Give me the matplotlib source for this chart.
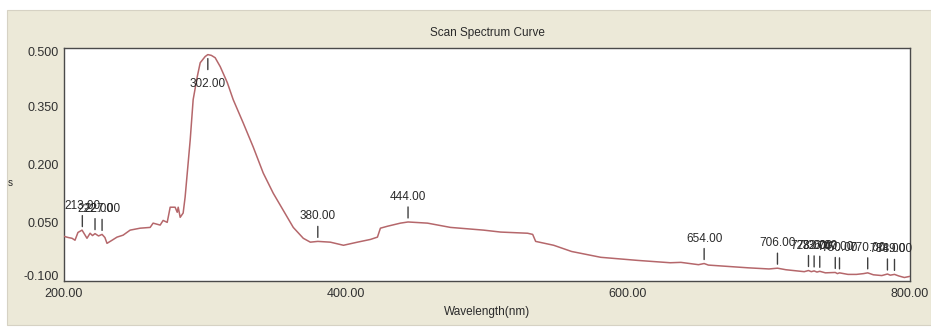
import numpy as np
import matplotlib
matplotlib.use("Agg")
import matplotlib.pyplot as plt
from matplotlib.patches import Rectangle
from matplotlib.transforms import ScaledTranslation

plt.rcParams["font.family"] = ["Liberation Sans", "DejaVu Sans"]

# Scanned absorbance spectrum
wavelength = [200.0, 203.0, 205.7, 207.8, 209.9, 212.8, 216.3, 218.5, 220.2, 222.0,
              224.5, 227.0, 229.0, 230.5, 234.1, 237.6, 241.9, 246.9, 254.0, 261.1,
              263.2, 268.2, 270.3, 273.2, 275.3, 278.8, 280.3, 281.0, 282.4, 284.5,
              285.9, 289.5, 291.6, 294.5, 296.6, 300.1, 302.0, 304.5, 307.2, 310.8,
              315.8, 320.0, 327.1, 334.2, 341.3, 348.4, 355.5, 362.6, 369.7, 374.7,
              380.0, 388.9, 398.2, 408.1, 417.3, 422.3, 424.4, 429.4, 438.6, 444.0,
              457.8, 474.1, 497.6, 509.7, 528.8, 532.4, 534.5, 547.3, 560.0, 580.7,
              607.0, 630.0, 637.5, 650.0, 654.0, 657.0, 661.0, 685.0, 700.0, 706.0,
              712.0, 725.0, 728.0, 730.0, 732.0, 734.0, 736.0, 740.0, 747.0, 748.5,
              750.0, 756.0, 762.0, 767.0, 770.0, 774.0, 780.0, 784.0, 786.0, 789.0,
              792.0, 796.0, 800.0]
absorbance = [0.015, 0.012, 0.010, 0.005, 0.025, 0.031, 0.010, 0.023, 0.017, 0.022,
              0.016, 0.020, 0.012, -0.003, 0.005, 0.013, 0.018, 0.031, 0.036, 0.038,
              0.049, 0.044, 0.056, 0.051, 0.090, 0.090, 0.077, 0.090, 0.064, 0.075,
              0.116, 0.263, 0.367, 0.426, 0.462, 0.478, 0.483, 0.481, 0.475, 0.452,
              0.411, 0.367, 0.307, 0.245, 0.178, 0.126, 0.082, 0.038, 0.010, 0.000,
              0.002, 0.000, -0.008, 0.000, 0.007, 0.013, 0.036, 0.041, 0.049, 0.052,
              0.049, 0.038, 0.031, 0.026, 0.023, 0.020, 0.002, -0.008, -0.024, -0.039,
              -0.047, -0.053, -0.052, -0.058, -0.055, -0.059, -0.060, -0.066, -0.069, -0.067,
              -0.071, -0.076, -0.073, -0.076, -0.074, -0.077, -0.075, -0.079, -0.078, -0.081,
              -0.079, -0.083, -0.083, -0.081, -0.079, -0.084, -0.086, -0.082, -0.085, -0.083,
              -0.087, -0.091, -0.088]

# Picked peak positions (nm)
peak_wavelengths = [213, 222, 227, 302, 380, 444, 654, 706,
                    728, 732, 736, 747, 750, 770, 784, 789]

x_ticks = [200, 400, 600, 800]
y_ticks = [-0.100, 0.050, 0.200, 0.350, 0.500]

W, H = 931, 327
fig = plt.figure(figsize=(W / 100, H / 100), dpi=100)
fig.patch.set_facecolor("white")

# Window-style panel behind the chart
fig.add_artist(Rectangle((7 / W, 2 / H), 1 - 7 / W, 315 / H,
                         transform=fig.transFigure, facecolor="#ECE9D8",
                         edgecolor="#D6D2C4", lw=0.8, zorder=-5))

left, right, top, bottom = 64, 910, 48, 281
ax = fig.add_axes([left / W, 1 - bottom / H, (right - left) / W, (bottom - top) / H])
ax.set_facecolor("white")

ax.plot(wavelength, absorbance, color="#B5676B", lw=1.1, zorder=3)

ax.set_xlim(200, 800)
ax.set_ylim(-0.1, 0.5)
ax.set_xticks(x_ticks)
ax.set_xticklabels([f"{v:.2f}" for v in x_ticks])
ax.set_yticks(y_ticks)
ax.set_yticklabels([f"{v:.3f}" for v in y_ticks])
ax.tick_params(axis="both", length=0, labelsize=9, colors="#303030")
ax.tick_params(axis="x", pad=5)
ax.tick_params(axis="y", pad=4)

for s in ax.spines.values():
    s.set_color("#4A4A4A")
    s.set_linewidth(1.0)

# Keep the end y labels inside the frame
ylabels = ax.get_yticklabels()
ylabels[0].set_transform(ylabels[0].get_transform() + ScaledTranslation(0, 6 / 100, fig.dpi_scale_trans))
ylabels[-1].set_transform(ylabels[-1].get_transform() + ScaledTranslation(0, -3 / 100, fig.dpi_scale_trans))

# Peak markers with labels
for w in peak_wavelengths:
    a = float(np.interp(w, wavelength, absorbance))
    below = a > 0.4
    sgn = -1 if below else 1
    ax.annotate("", xy=(w, a), xycoords="data",
                xytext=(0, sgn * 15), textcoords="offset pixels",
                arrowprops=dict(arrowstyle="-", color="#404040", lw=1.0,
                                shrinkA=0, shrinkB=4 * 0.72), zorder=4)
    ax.annotate(f"{w:.2f}", xy=(w, a), xycoords="data",
                xytext=(0, sgn * (22 if not below else 23)), textcoords="offset pixels",
                ha="center", va="top" if below else "baseline",
                fontsize=8.5, color="#2A2A2A", zorder=5)

fig.text((left + right) / 2 / W, 1 - 33 / H, "Scan Spectrum Curve",
         ha="center", va="center", fontsize=8.5, color="#2A2A2A")
fig.text((left + right) / 2 / W, 1 - 312 / H, "Wavelength(nm)",
         ha="center", va="center", fontsize=8.5, color="#2A2A2A")
fig.text(10 / W, 1 - 183 / H, "s", ha="center", va="center",
         fontsize=7, color="#2A2A2A")

fig.savefig("out.png", dpi=100, facecolor=fig.get_facecolor())
